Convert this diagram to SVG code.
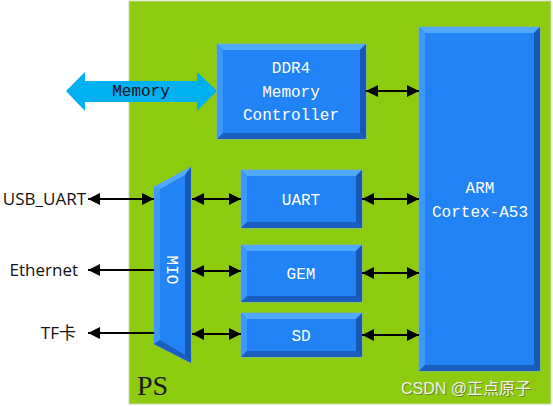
<svg xmlns="http://www.w3.org/2000/svg" width="553" height="406" viewBox="0 0 553 406">
<style>
.mono{font-family:"Liberation Mono","DejaVu Sans Mono",monospace;font-size:16px;}
.wt{fill:#ffffff;}
.lbl{font-family:"Open Sans","Liberation Sans","Noto Sans CJK SC",sans-serif;font-size:17px;fill:#111;}
.base{fill:#2283F6;stroke:#7FA8D8;stroke-width:0.8;}
.top{fill:#4FA9FF;}
.lft{fill:#3C98FB;}
.rgt{fill:#1558B8;}
.bot{fill:#1A5FBF;}
.con{stroke:#000;stroke-width:2;fill:none;}
</style>
<defs>
<marker id="ah" viewBox="0 0 10 10" refX="10" refY="5" markerWidth="12" markerHeight="13" markerUnits="userSpaceOnUse" orient="auto-start-reverse">
<path d="M0,0 L10,5 L0,10 z" fill="#000"/>
</marker>
</defs>
<rect x="0" y="0" width="553" height="406" fill="#ffffff"/>
<g id="ps">
<rect x="129" y="1" width="422" height="403" fill="#8DCB0E" stroke="#C8D8B0" stroke-width="1"/>
<text x="137" y="395" font-family="Liberation Serif,serif" font-size="28" fill="#1a1a1a">PS</text>
</g>
<g id="memory">
<polygon points="66,91 85,72 85,81 197,81 197,72 217,91 197,111 197,102 85,102 85,111" fill="#00B0F0"/>
<text x="141" y="96" class="mono" text-anchor="middle" fill="#111">Memory</text>
</g>
<g id="ddr4">
<rect class="base" x="217" y="44" width="149" height="95"/>
<polygon class="top" points="217,44 366,44 360,50 223,50"/>
<polygon class="lft" points="217,44 223,50 223,133 217,139"/>
<polygon class="rgt" points="366,44 366,139 360,133 360,50"/>
<polygon class="bot" points="217,139 366,139 360,133 223,133"/>
<text class="mono wt" x="291" y="73" text-anchor="middle">DDR4</text>
<text class="mono wt" x="291" y="97" text-anchor="middle">Memory</text>
<text class="mono wt" x="291" y="120" text-anchor="middle">Controller</text>
</g>
<g id="arm">
<rect class="base" x="419" y="27" width="121" height="344"/>
<polygon class="top" points="419,27 540,27 534,33 425,33"/>
<polygon class="lft" points="419,27 425,33 425,365 419,371"/>
<polygon class="rgt" points="540,27 540,371 534,365 534,33"/>
<polygon class="bot" points="419,371 540,371 534,365 425,365"/>
<text class="mono wt" x="480" y="193" text-anchor="middle">ARM</text>
<text class="mono wt" x="480" y="217" text-anchor="middle">Cortex-A53</text>
</g>
<g id="uart">
<rect class="base" x="241" y="170" width="121" height="58"/>
<polygon class="top" points="241,170 362,170 356,176 247,176"/>
<polygon class="lft" points="241,170 247,176 247,222 241,228"/>
<polygon class="rgt" points="362,170 362,228 356,222 356,176"/>
<polygon class="bot" points="241,228 362,228 356,222 247,222"/>
<text class="mono wt" x="301" y="205" text-anchor="middle">UART</text>
</g>
<g id="gem">
<rect class="base" x="241" y="245" width="121" height="57"/>
<polygon class="top" points="241,245 362,245 356,251 247,251"/>
<polygon class="lft" points="241,245 247,251 247,296 241,302"/>
<polygon class="rgt" points="362,245 362,302 356,296 356,251"/>
<polygon class="bot" points="241,302 362,302 356,296 247,296"/>
<text class="mono wt" x="301" y="279" text-anchor="middle">GEM</text>
</g>
<g id="sd">
<rect class="base" x="241" y="313" width="121" height="44"/>
<polygon class="top" points="241,313 362,313 356,319 247,319"/>
<polygon class="lft" points="241,313 247,319 247,351 241,357"/>
<polygon class="rgt" points="362,313 362,357 356,351 356,319"/>
<polygon class="bot" points="241,357 362,357 356,351 247,351"/>
<text class="mono wt" x="301" y="341" text-anchor="middle">SD</text>
</g>
<g id="mio">
<polygon class="base" points="154,187 191,167 191,363 154,344"/>
<polygon class="top" points="154,187 191,167 185,175 160,189"/>
<polygon class="lft" points="154,187 160,189 160,340 154,344"/>
<polygon class="rgt" points="191,167 191,363 185,355 185,175"/>
<polygon class="bot" points="154,344 191,363 185,355 160,340"/>
<text class="mono wt" x="0" y="0" text-anchor="middle" transform="translate(167,270) rotate(90)">MIO</text>
</g>
<g id="ext-labels">
<text class="lbl" x="86" y="205" text-anchor="end">USB_UART</text>
<text class="lbl" x="78" y="276" text-anchor="end">Ethernet</text>
<text class="lbl" x="76" y="339" text-anchor="end">TF卡</text>
</g>
<g id="connectors">
<line class="con" x1="88" y1="199" x2="154" y2="199" marker-start="url(#ah)" marker-end="url(#ah)"/>
<line class="con" x1="88" y1="270" x2="154" y2="270" marker-start="url(#ah)"/>
<line class="con" x1="88" y1="333" x2="154" y2="333" marker-start="url(#ah)"/>
<line class="con" x1="192" y1="199" x2="241" y2="199" marker-start="url(#ah)" marker-end="url(#ah)"/>
<line class="con" x1="192" y1="271" x2="241" y2="271" marker-start="url(#ah)" marker-end="url(#ah)"/>
<line class="con" x1="192" y1="334" x2="241" y2="334" marker-start="url(#ah)" marker-end="url(#ah)"/>
<line class="con" x1="366" y1="91" x2="419" y2="91" marker-start="url(#ah)" marker-end="url(#ah)"/>
<line class="con" x1="362" y1="199" x2="419" y2="199" marker-start="url(#ah)" marker-end="url(#ah)"/>
<line class="con" x1="362" y1="273" x2="419" y2="273" marker-start="url(#ah)" marker-end="url(#ah)"/>
<line class="con" x1="362" y1="335" x2="419" y2="335" marker-start="url(#ah)" marker-end="url(#ah)"/>
</g>
<g id="watermark">
<text x="402" y="395" font-family="'Liberation Sans','Noto Sans CJK SC',sans-serif" font-size="16" fill="#555" opacity="0.6">CSDN @正点原子</text>
<text x="401" y="394" font-family="'Liberation Sans','Noto Sans CJK SC',sans-serif" font-size="16" fill="#EEF3E0">CSDN @正点原子</text>
</g>
</svg>
